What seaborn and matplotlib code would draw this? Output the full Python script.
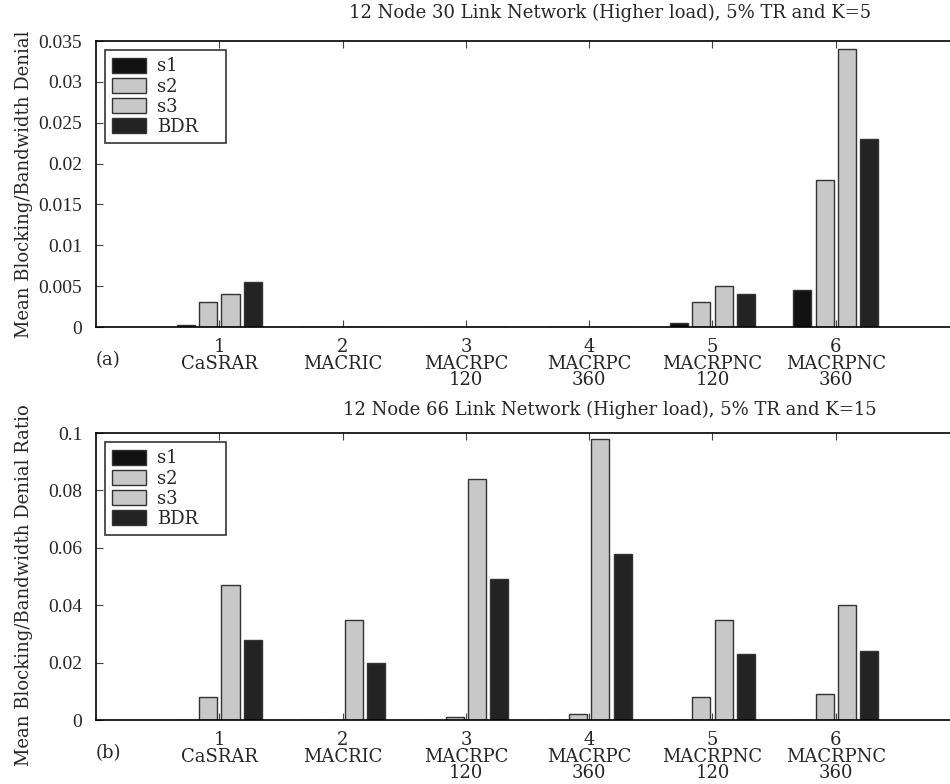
import numpy as np
import pandas as pd
import matplotlib
matplotlib.use("Agg")
import matplotlib.pyplot as plt
import seaborn as sns

# data
groups = [1, 2, 3, 4, 5, 6]
group_labels = ["1\nCaSRAR", "2\nMACRIC", "3\nMACRPC\n120", "4\nMACRPC\n360",
                "5\nMACRPNC\n120", "6\nMACRPNC\n360"]
series = ["s1", "s2", "s3", "BDR"]

# (a) 12 node 30 link network
a_s1 = [0.0003, 0, 0, 0, 0.0005, 0.0045]
a_s2 = [0.003, 0, 0, 0, 0.003, 0.018]
a_s3 = [0.004, 0, 0, 0, 0.005, 0.034]
a_bdr = [0.0055, 0, 0, 0, 0.004, 0.023]

# (b) 12 node 66 link network
b_s1 = [0, 0, 0, 0, 0, 0]
b_s2 = [0.008, 0, 0.001, 0.002, 0.008, 0.009]
b_s3 = [0.047, 0.035, 0.084, 0.098, 0.035, 0.040]
b_bdr = [0.028, 0.020, 0.049, 0.058, 0.023, 0.024]

a_ticks = [0, 0.005, 0.01, 0.015, 0.02, 0.025, 0.03, 0.035]
b_ticks = [0, 0.02, 0.04, 0.06, 0.08, 0.1]

palette = {"s1": "#111111", "s2": "#c8c8c8", "s3": "#c8c8c8", "BDR": "#232323"}


def to_long(cols):
    rows = []
    for name, vals in zip(series, cols):
        for g, v in zip(groups, vals):
            rows.append({"group": g, "series": name, "value": v})
    return pd.DataFrame(rows)


sns.set_style("ticks")
plt.rcParams["font.family"] = ["DejaVu Serif"]
plt.rcParams["font.size"] = 13

TXT = 13
NUM = dict(family="Liberation Serif", size=14)

fig = plt.figure(figsize=(9.5, 7.84), dpi=100)
ax1 = fig.add_axes([0.1011, 0.5829, 0.9084, 0.3648])
ax2 = fig.add_axes([0.1011, 0.0816, 0.9084, 0.3661])


def draw(ax, df, ticks, ylabel):
    sns.barplot(data=df, x="group", y="value", hue="series", palette=palette,
                native_scale=True, width=0.724, gap=0.19, errorbar=None,
                edgecolor="#333333", linewidth=1.0, ax=ax)
    ax.set_xlim(0, 7)
    ax.set_ylim(ticks[0], ticks[-1])
    ax.set_xticks(groups)
    ax.set_xticklabels(group_labels, fontsize=TXT, linespacing=0.9)
    ax.set_yticks(ticks)
    ax.set_yticklabels(["%g" % t for t in ticks], fontdict=NUM)
    ax.tick_params(direction="in", length=5, width=0.8, top=True, right=True,
                   color="#444444")
    ax.tick_params(axis="x", pad=8)
    ax.tick_params(axis="y", pad=10)
    for s in ax.spines.values():
        s.set_linewidth(1.2)
        s.set_color("black")
    ax.set_xlabel("")
    ax.set_ylabel(ylabel, fontsize=TXT)
    ax.yaxis.set_label_coords(-0.073, 0.5)
    handles, labels = ax.get_legend_handles_labels()
    leg = ax.legend(handles, labels, loc="upper left",
                    bbox_to_anchor=(0.0105, 0, 0.1404, 0.968), mode="expand",
                    frameon=True, fancybox=False, edgecolor="black", fontsize=TXT,
                    handlelength=1.85, handleheight=0.9, labelspacing=0.12,
                    borderpad=0.4, handletextpad=0.6, borderaxespad=0)
    leg.get_frame().set_linewidth(1.2)


draw(ax1, to_long([a_s1, a_s2, a_s3, a_bdr]), a_ticks, "Mean Blocking/Bandwidth Denial")
draw(ax2, to_long([b_s1, b_s2, b_s3, b_bdr]), b_ticks, "Mean Blocking/Bandwidth Denial Ratio")
ax2.yaxis.set_label_coords(-0.073, 0.47)

fig.text(0.642, 0.984, "12 Node 30 Link Network (Higher load), 5% TR and K=5",
         ha="center", va="center", fontsize=TXT)
fig.text(0.642, 0.477, "12 Node 66 Link Network (Higher load), 5% TR and K=15",
         ha="center", va="center", fontsize=TXT)
fig.text(0.101, 0.541, "(a)", ha="left", va="center", fontsize=TXT)
fig.text(0.101, 0.0395, "(b)", ha="left", va="center", fontsize=TXT)

fig.savefig("out.png", dpi=100)
